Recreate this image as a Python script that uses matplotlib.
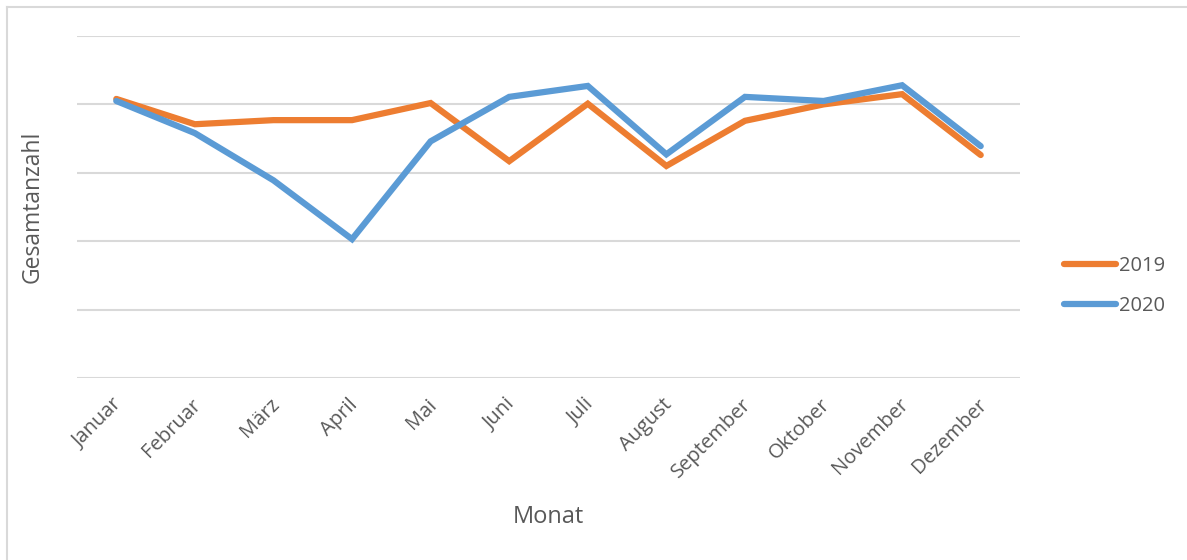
import numpy as np
import matplotlib
matplotlib.use("Agg")
import matplotlib.pyplot as plt
from matplotlib.lines import Line2D
from matplotlib.transforms import ScaledTranslation

plt.rcParams['font.family'] = ['Open Sans', 'DejaVu Sans']

months = ["Januar", "Februar", "März", "April", "Mai", "Juni", "Juli",
          "August", "September", "Oktober", "November", "Dezember"]
val_2019 = [4.08, 3.71, 3.77, 3.77, 4.02, 3.17, 4.01, 3.10, 3.76, 4.00, 4.15, 3.26]
val_2020 = [4.05, 3.58, 2.89, 2.03, 3.46, 4.11, 4.27, 3.27, 4.11, 4.05, 4.28, 3.39]

text_col = "#595959"
grid_col = "#D9D9D9"
c2019 = "#ED7D31"
c2020 = "#5B9BD5"

fig = plt.figure(figsize=(11.87, 5.6), dpi=100)
ax = fig.add_axes([77 / 1187, 1 - 378 / 560, (1020 - 77) / 1187, (378 - 36) / 560])

x = np.arange(len(months))
ax.plot(x, val_2019, color=c2019, lw=4.5, solid_capstyle="round", solid_joinstyle="miter", zorder=3)
ax.plot(x, val_2020, color=c2020, lw=4.5, solid_capstyle="round", solid_joinstyle="miter", zorder=4)

ax.set_xlim(-0.5, len(months) - 0.5)
ax.set_ylim(0, 5)
ax.set_yticks(np.arange(0, 6))
ax.set_yticklabels([])
ax.tick_params(axis="y", length=0)
ax.grid(axis="y", color=grid_col, lw=1.5)
for s in ax.spines.values():
    s.set_visible(False)
ax.set_xticks(x)
ax.set_xticklabels(months, rotation=45, ha="right", rotation_mode="anchor",
                   fontsize=14.5, color=text_col)
ax.tick_params(axis="x", length=0, pad=12)
shift = ScaledTranslation(-4 / 100, 0, fig.dpi_scale_trans)
for lab in ax.get_xticklabels():
    lab.set_transform(lab.get_transform() + shift)

fig.text(548 / 1187, 1 - 517 / 560, "Monat", ha="center", va="center", fontsize=17, color=text_col)
fig.text(33 / 1187, 1 - 207 / 560, "Gesamtanzahl", ha="center", va="center", rotation=90,
         fontsize=16.5, color=text_col)

# legend on the right
handles = [Line2D([], [], color=c2019, lw=4.5, solid_capstyle="round"),
           Line2D([], [], color=c2020, lw=4.5, solid_capstyle="round")]
fig.legend(handles, ["2019", "2020"], loc="center left",
           bbox_to_anchor=(1046 / 1187, 1 - 286 / 560), frameon=False,
           fontsize=14.5, labelcolor=text_col, handlelength=2.6, handletextpad=0.1,
           labelspacing=1.0)

# chart frame (only top and left visible)
fig.add_artist(Line2D([6.5 / 1187, 1], [1 - 6.5 / 560] * 2, color=grid_col, lw=1.5))
fig.add_artist(Line2D([6.5 / 1187] * 2, [0, 1 - 6.5 / 560], color=grid_col, lw=1.5))

fig.savefig("out.png", dpi=100)
